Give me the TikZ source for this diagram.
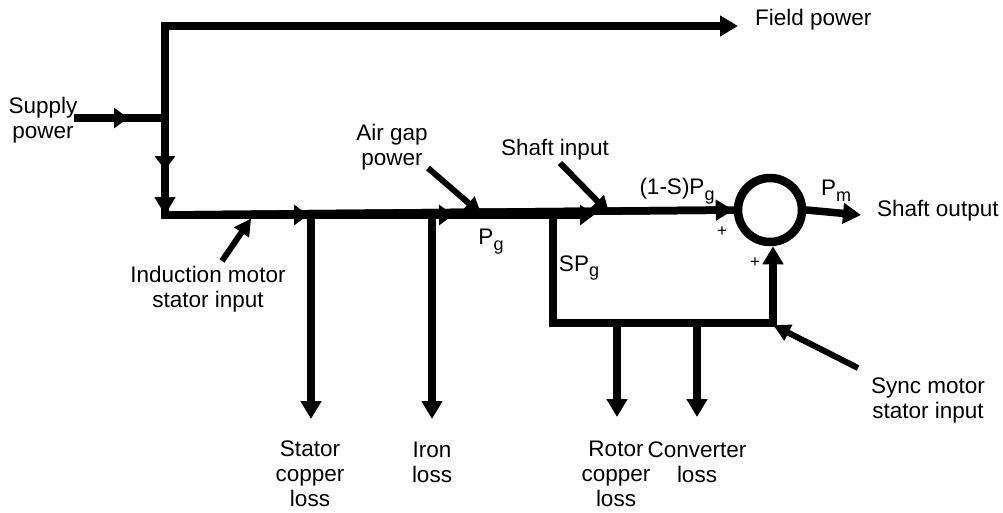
\documentclass[tikz,border=0pt]{standalone}
\usepackage{fontspec}
\setmainfont{Liberation Sans}
\usetikzlibrary{arrows.meta}
\newcommand{\subg}[1]{\raisebox{-0.5ex}{\fontsize{18}{18}\selectfont #1}}
\begin{document}
\begin{tikzpicture}[x=1pt,y=-1pt,
  flow/.style={line width=7.5pt,line join=miter,line cap=rect},
  tipA/.style={-{Triangle[length=18pt,width=20pt]}},
  tipM/.style={-{Triangle[length=14pt,width=20pt]}},
  ptr/.style={line width=6pt,-{Triangle[length=17pt,width=17pt]},shorten >=-2pt},
  lbl/.style={font=\fontsize{22.5}{25}\selectfont,align=center,inner sep=0pt},
  plus/.style={font=\fontsize{17}{17}\selectfont,inner sep=0pt}]
\useasboundingbox (0,0) rectangle (1003,512);
% key points
\coordinate (tl) at (165,26);
\coordinate (fpend) at (738,26);
\coordinate (sin) at (78,118);
\coordinate (sj) at (165,118);
\coordinate (sa) at (128,118);
\coordinate (va) at (165,170);
\coordinate (corner) at (165,215);
\coordinate (m1) at (308,215);
\coordinate (m2) at (453,215);
\coordinate (m3) at (594,215);
\coordinate (bs) at (311,215);
\coordinate (bi) at (432,215);
\coordinate (bsp) at (553,215);
\coordinate (spc) at (553,323);
\coordinate (sync) at (773,323);
\coordinate (br) at (617,323);
\coordinate (bc) at (697,323);
\coordinate (es) at (311,419);
\coordinate (ei) at (432,419);
\coordinate (er) at (617,417);
\coordinate (ec) at (697,417);
\coordinate (out) at (861,215);
\node[circle,draw,line width=8.5pt,minimum size=64pt,inner sep=0pt] (sum) at (770,210) {};
% texts
\node[lbl] (supply) at (43,120) {Supply\\power};
\node[lbl,anchor=west] (field) at (755,20) {Field power};
\node[lbl] (imsi) at (208,289) {Induction motor\\stator input};
\node[lbl] (agp) at (392,147) {Air gap\\power};
\node[lbl] (shin) at (555,150) {Shaft input};
\node[lbl] (pg) at (491,242) {P\subg{g}};
\node[lbl] (spg) at (579,268) {SP\subg{g}};
\node[lbl] (ospg) at (677,191) {(1-S)P\subg{g}};
\node[lbl] (pm) at (836,191) {P\subg{m}};
\node[lbl,anchor=west] (shout) at (877,211) {Shaft output};
\node[plus] (p1) at (722,232) {+};
\node[plus] (p2) at (755,263) {+};
\node[lbl] (smsi) at (928,400) {Sync motor\\stator input};
\node[lbl] (scl) at (310,474) {Stator\\copper\\loss};
\node[lbl] (il) at (432,462) {Iron\\loss};
\node[lbl] (rcl) at (616,474) {Rotor\\copper\\loss};
\node[lbl] (cl) at (697,462) {Converter\\loss};
% main flows
\draw[flow] (sin) -- (sj);
\draw[flow,tipM,line cap=butt] (sin) -- (sa);
\draw[flow,tipA] (tl) -- (fpend);
\draw[flow] (tl) -- (corner);
\draw[flow,tipM,line cap=butt] (tl) -- (va);
\draw[flow,tipA,line cap=butt] (tl) -- (corner);
\draw[flow] (corner) -- (sum.west);
\draw[flow,tipM,line cap=butt] (corner) -- (m1);
\draw[flow,tipM,line cap=butt] (corner) -- (m2);
\draw[flow,tipM,line cap=butt] (corner) -- (m3);
\draw[flow,tipA,line cap=butt] (corner) -- (sum.west);
\draw[flow,tipA] (sum.east) -- (out);
\draw[flow,tipA] (bs) -- (es);
\draw[flow,tipA] (bi) -- (ei);
\draw[flow] (bsp) -- (spc) -- (sync);
\draw[flow,tipA] (sync) -- (sum.south -| sync);
\draw[flow,tipA] (br) -- (er);
\draw[flow,tipA] (bc) -- (ec);
% pointers
\coordinate (q1) at (250,220);
\coordinate (q2) at (480,213);
\coordinate (q3) at (608,212);
\coordinate (q4) at (775,326);
\draw[ptr] (222,261) -- (q1);
\draw[ptr] (428,168) -- (q2);
\draw[ptr] (560,163) -- (q3);
\draw[ptr] (858,368) -- (q4);
\end{tikzpicture}
\end{document}
